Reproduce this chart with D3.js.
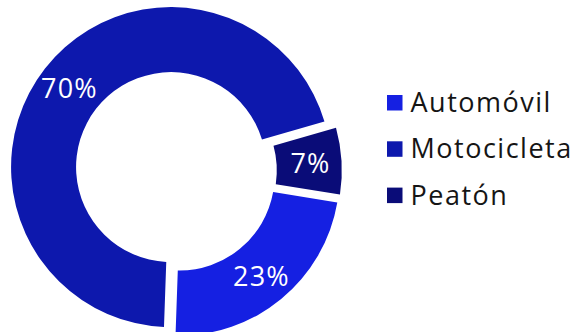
<!DOCTYPE html>
<html>
<head>
<meta charset="utf-8">
<script src="https://cdn.jsdelivr.net/npm/d3@7"></script>
<style>
  html, body { margin: 0; padding: 0; background: #ffffff; }
  svg { display: block; }
</style>
</head>
<body>
<div id="chart"></div>
<script>
// ---- data ----
const categories = ["Motocicleta", "Peatón", "Automóvil"];   // drawing order (clockwise from bottom)
const values = [70, 7, 23];
const labels = ["70%", "7%", "23%"];
const legendOrder = ["Automóvil", "Motocicleta", "Peatón"];
const colors = { "Automóvil": "#1520E2", "Motocicleta": "#0D18AD", "Peatón": "#0A0C78" };

const W = 576, H = 332;
const cx = 175.8, cy = 170.8;
const R = 160, r = 95;
const explode = 6;
const gap = 3;
const startDeg = 182;

const svg = d3.select("#chart").append("svg")
  .attr("width", W).attr("height", H)
  .attr("viewBox", `0 0 ${W} ${H}`);

const data = categories.map((c, i) => ({ name: c, value: values[i], label: labels[i] }));

const pie = d3.pie()
  .value(d => d.value)
  .sort(null)
  .startAngle(startDeg * Math.PI / 180)
  .endAngle(startDeg * Math.PI / 180 + 2 * Math.PI);

const arc = d3.arc()
  .innerRadius(r)
  .outerRadius(R)
  .padRadius(R)
  .padAngle(gap / R);

const labelArc = d3.arc().innerRadius(129).outerRadius(129);

const g = svg.append("g").attr("transform", `translate(${cx},${cy})`);

const slices = g.selectAll("g.slice")
  .data(pie(data))
  .join("g")
  .attr("class", "slice")
  .attr("transform", d => {
    const m = (d.startAngle + d.endAngle) / 2;
    return `translate(${Math.sin(m) * explode},${-Math.cos(m) * explode})`;
  });

slices.append("path")
  .attr("d", arc)
  .attr("fill", d => colors[d.data.name]);

slices.append("text")
  .attr("transform", d => `translate(${labelArc.centroid(d)})`)
  .attr("text-anchor", "middle")
  .attr("dominant-baseline", "central")
  .attr("font-family", "'Open Sans', sans-serif")
  .attr("font-size", 27)
  .attr("letter-spacing", 1.2)
  .attr("fill", "#ffffff")
  .text(d => d.data.label);

// ---- legend ----
const legend = svg.append("g").attr("transform", "translate(387,95)");
const rowH = 46.3;
const items = legend.selectAll("g.item")
  .data(legendOrder)
  .join("g")
  .attr("class", "item")
  .attr("transform", (d, i) => `translate(0,${i * rowH})`);

items.append("rect")
  .attr("x", 0).attr("y", 0)
  .attr("width", 15.5).attr("height", 15.5)
  .attr("fill", d => colors[d]);

items.append("text")
  .attr("x", 23.5)
  .attr("y", 17)
  .attr("font-family", "'Open Sans', sans-serif")
  .attr("font-size", 27)
  .attr("letter-spacing", 1.5)
  .attr("fill", "#151515")
  .text(d => d);
</script>
</body>
</html>
